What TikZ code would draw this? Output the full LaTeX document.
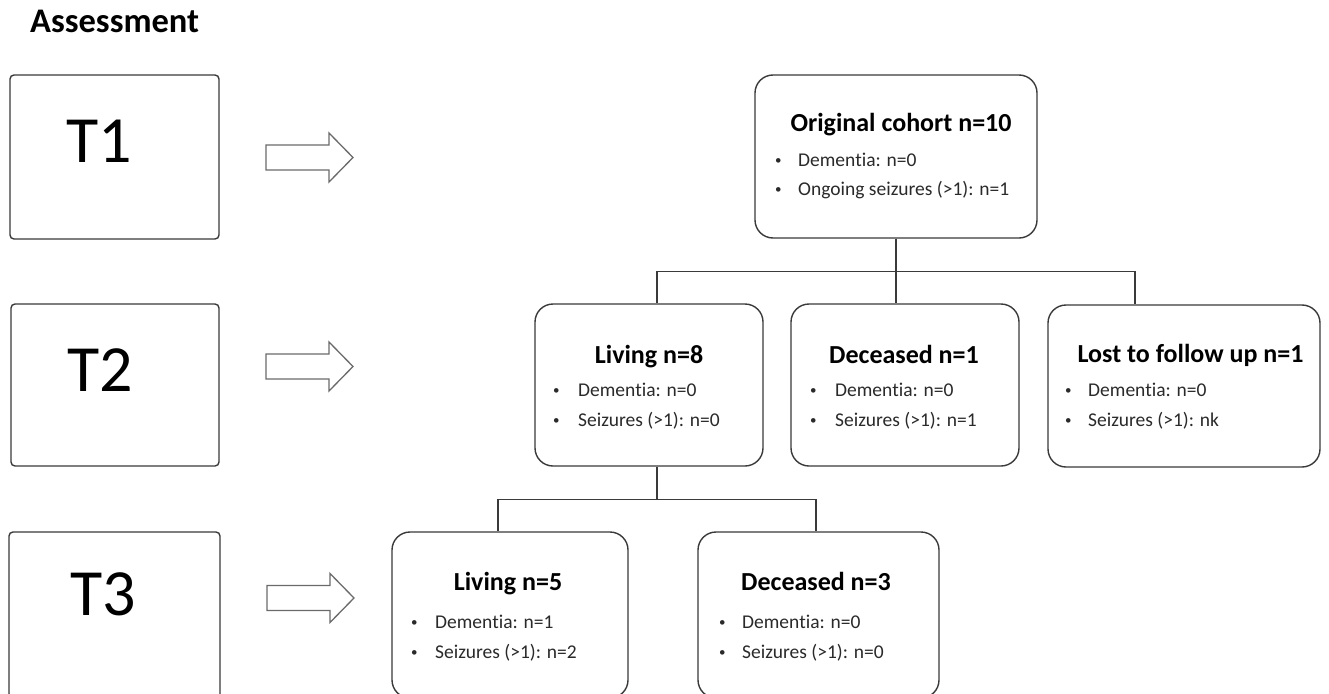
\documentclass[tikz,border=0pt]{standalone}
\usepackage{fontspec}
\setmainfont{Carlito}[Ligatures=NoCommon]
\definecolor{boxc}{HTML}{3A3A3A}
\definecolor{arrc}{HTML}{6A6A6A}
\definecolor{txtc}{HTML}{2A2A2A}
\newcommand{\blockarrow}[2]{%
  \draw[blk] (#1,#2) ++(0,-12.5) -- ++(63,0) -- ++(0,-12) -- ++(24,24.5) -- ++(-24,24.5) -- ++(0,-12) -- ++(-63,0) -- cycle;}
\begin{document}
\begin{tikzpicture}[x=1pt,y=-1pt,
  fbox/.style={draw=boxc, line width=1.4pt, rounded corners=18pt, inner sep=0pt},
  tbox/.style={draw=boxc, line width=1.4pt, rounded corners=4pt, inner sep=0pt},
  tlab/.style={font=\fontsize{66}{70}\selectfont, text=black, anchor=base, inner sep=0pt},
  ttl/.style={font=\fontsize{26}{28}\selectfont\bfseries, text=black, anchor=base, inner sep=0pt},
  itm/.style={font=\fontsize{19.5}{22}\selectfont, text=txtc, anchor=base west, inner sep=0pt},
  bul/.style={font=\fontsize{13}{15}\selectfont, text=txtc, anchor=base west, inner sep=0pt, yshift=2pt},
  conn/.style={draw=boxc, line width=1.4pt},
  blk/.style={draw=arrc, line width=1.3pt, fill=white, line join=miter}
]
\useasboundingbox (0,0) rectangle (1329,693);
\clip (0,0) rectangle (1329,693);
\fill[white] (0,0) rectangle (1329,693);

% heading
\node[font=\fontsize{34.5}{37}\selectfont\bfseries, text=black, anchor=base west, inner sep=0pt] (head) at (30,33) {Assessment};

% time point boxes
\node[tbox, minimum width=209, minimum height=164] (t1) at (114.5,157) {};
\node[tlab] (t1l) at (99.5,162) {T1};
\node[tbox, minimum width=208, minimum height=162] (t2) at (115,385) {};
\node[tlab] (t2l) at (100,391) {T2};
\node[tbox, minimum width=211, minimum height=166] (t3) at (114.5,615) {};
\node[tlab] (t3l) at (103.5,615) {T3};

% block arrows
\blockarrow{266}{157.5}
\blockarrow{266}{366.5}
\blockarrow{267}{598}

% flow boxes
\node[fbox, minimum width=282, minimum height=163] (orig) at (896,156.5) {};
\node[ttl] (origt) at (901,131) {Original cohort n=10};
\node[bul] at (775,166) {•};
\node[itm] at (798,166) {Dementia: n=0};
\node[bul] at (775,195) {•};
\node[itm] at (798,195) {Ongoing seizures (>1): n=1};

\node[fbox, minimum width=228, minimum height=162] (liv8) at (649,385) {};
\node[ttl] (liv8t) at (649,363) {Living n=8};
\node[bul] at (553,396) {•};
\node[itm] at (578,396) {Dementia: n=0};
\node[bul] at (553,426) {•};
\node[itm] at (578,426) {Seizures (>1): n=0};

\node[fbox, minimum width=228, minimum height=162] (dec1) at (905,385) {};
\node[ttl] (dec1t) at (904,363) {Deceased n=1};
\node[bul] at (810,396) {•};
\node[itm] at (835,396) {Dementia: n=0};
\node[bul] at (810,426) {•};
\node[itm] at (835,426) {Seizures (>1): n=1};

\node[fbox, minimum width=272, minimum height=162] (lost) at (1184,386) {};
\node[ttl] (lostt) at (1190.5,362) {Lost to follow up n=1};
\node[bul] at (1065,396) {•};
\node[itm] at (1088,396) {Dementia: n=0};
\node[bul] at (1065,426) {•};
\node[itm] at (1088,426) {Seizures (>1): nk};

\node[fbox, minimum width=236, minimum height=166] (liv5) at (510,615) {};
\node[ttl] (liv5t) at (508,590) {Living n=5};
\node[bul] at (411,628) {•};
\node[itm] at (435,628) {Dementia: n=1};
\node[bul] at (411,658) {•};
\node[itm] at (435,658) {Seizures (>1): n=2};

\node[fbox, minimum width=241, minimum height=166] (dec3) at (818.5,615) {};
\node[ttl] (dec3t) at (816,590) {Deceased n=3};
\node[bul] at (719,628) {•};
\node[itm] at (742,628) {Dementia: n=0};
\node[bul] at (719,658) {•};
\node[itm] at (742,658) {Seizures (>1): n=0};

% connectors
\draw[conn] (orig.south) -- ++(0,33) -| ([xshift=8pt]liv8.north);
\draw[conn] (orig.south) -- ++(0,33) -| ([xshift=-49pt]lost.north);
\draw[conn] (orig.south) -- (orig.south |- dec1.north);
\draw[conn] ([xshift=8pt]liv8.south) -- ++(0,33) -| ([xshift=-12pt]liv5.north);
\draw[conn] ([xshift=8pt]liv8.south) -- ++(0,33) -| ([xshift=-2.5pt]dec3.north);
\end{tikzpicture}
\end{document}
